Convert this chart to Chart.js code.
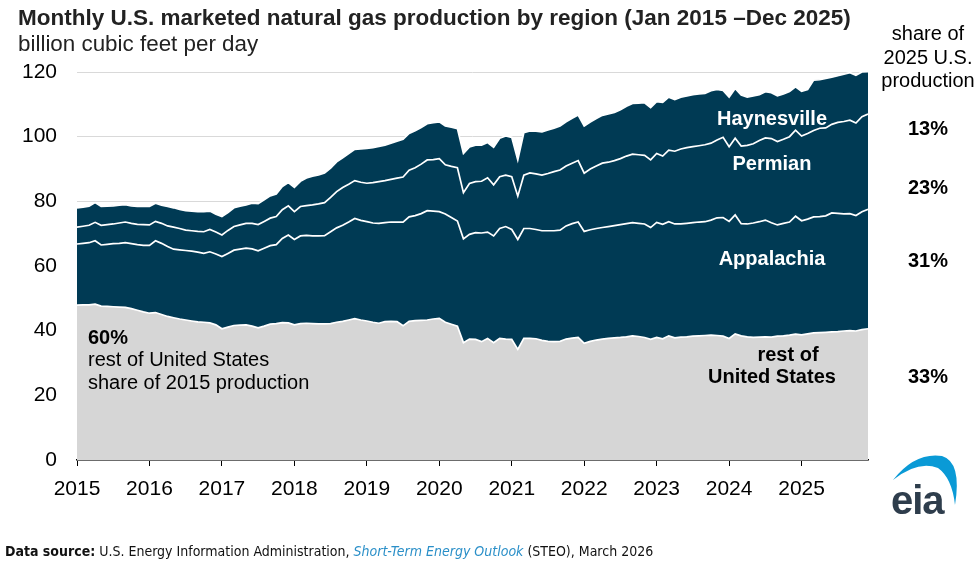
<!DOCTYPE html>
<html>
<head>
<meta charset="utf-8">
<script src="https://cdn.jsdelivr.net/npm/chart.js@4.4.1/dist/chart.umd.min.js"></script>
<style>
  html, body { margin:0; padding:0; background:#fff; }
  #wrap { position:relative; width:980px; height:571px; overflow:hidden; font-family:"Liberation Sans", Arial, sans-serif; color:#000; }
  canvas { position:absolute; left:0; top:0; }
  .t { position:absolute; white-space:nowrap; line-height:1; }
  .c { transform:translate(-50%,-50%); text-align:center; }
  .l { transform:translate(0,-50%); }
  .b { font-weight:bold; }
  .w { color:#fff; }
</style>
</head>
<body>
<div id="wrap">
  <canvas id="chart" width="980" height="571"></canvas>
  <div class="t b" style="left:18px;top:7px;font-size:22.5px;color:#222;">Monthly U.S. marketed natural gas production by region (Jan 2015 –Dec 2025)</div>
  <div class="t" style="left:18px;top:33px;font-size:22.4px;color:#222;">billion cubic feet per day</div>

  <div class="t c" style="left:928px;top:33px;font-size:20px;">share of</div>
  <div class="t c" style="left:928px;top:57px;font-size:20px;">2025 U.S.</div>
  <div class="t c" style="left:928px;top:80px;font-size:20px;">production</div>

  <div class="t c b" style="left:928px;top:128px;font-size:20px;">13%</div>
  <div class="t c b" style="left:928px;top:187px;font-size:20px;">23%</div>
  <div class="t c b" style="left:928px;top:260px;font-size:20px;">31%</div>
  <div class="t c b" style="left:928px;top:376px;font-size:20px;">33%</div>

  <div class="t c b w" style="left:772px;top:118px;font-size:20px;">Haynesville</div>
  <div class="t c b w" style="left:772px;top:163px;font-size:20px;">Permian</div>
  <div class="t c b w" style="left:772px;top:258px;font-size:20px;">Appalachia</div>
  <div class="t c b" style="left:788px;top:354px;font-size:20px;">rest of</div>
  <div class="t c b" style="left:772px;top:376px;font-size:20px;">United States</div>

  <div class="t l b" style="left:88px;top:337px;font-size:20px;">60%</div>
  <div class="t l" style="left:88px;top:359px;font-size:20px;">rest of United States</div>
  <div class="t l" style="left:88px;top:382px;font-size:20px;">share of 2015 production</div>

  <div class="t l" style="left:5px;top:551px;font-size:14px;font-family:'Liberation Sans Narrow','DejaVu Sans Condensed','Liberation Sans',sans-serif;font-stretch:condensed;color:#111;"><span class="b">Data source:</span> U.S. Energy Information Administration, <i style="color:#2a8fc8;">Short-Term Energy Outlook</i> (STEO), March 2026</div>

  <svg style="position:absolute;left:880px;top:448px;" width="90" height="80" viewBox="880 448 90 80">
    <path d="M893 480 Q915 452 942 456 Q962 462 955 505 Q952 478 938 468 Q918 460 893 480 Z" fill="#0a9ad6"/>
  </svg>
  <div class="t b" style="left:891px;top:480px;font-size:40px;color:#2e3d4c;letter-spacing:-1px;">eia</div>
</div>
<script>
// Month categories Jan 2015 – Dec 2025
const months = [];
for (let y = 2015; y <= 2025; y++) for (let m = 1; m <= 12; m++) months.push(y + '-' + String(m).padStart(2, '0'));
const yearTicks = [2015, 2016, 2017, 2018, 2019, 2020, 2021, 2022, 2023, 2024, 2025];
const yTicks = [0, 20, 40, 60, 80, 100, 120];

// billion cubic feet per day, monthly
const restOfUS = [
  47.9, 48.0, 48.0, 48.2, 47.6, 47.5, 47.4, 47.3, 47.2, 46.8, 46.3, 45.8,
  45.4, 45.6, 45.0, 44.4, 44.0, 43.6, 43.3, 43.0, 42.7, 42.6, 42.4, 41.8,
  40.6, 41.1, 41.6, 41.7, 41.8, 41.4, 40.9, 41.4, 42.0, 42.2, 42.5, 42.4,
  41.8, 42.2, 42.3, 42.2, 42.1, 42.1, 42.2, 42.6, 42.9, 43.3, 43.7, 43.3,
  43.0, 42.6, 42.3, 42.8, 42.9, 42.8, 41.5, 42.9, 43.1, 43.2, 43.3, 43.6,
  43.8, 42.6, 42.0, 41.4, 36.3, 37.4, 37.3, 36.6, 37.6, 36.3, 37.6, 37.4,
  37.3, 34.2, 37.6, 37.6, 37.5, 37.0, 36.7, 36.6, 36.7, 37.4, 37.7, 37.9,
  36.1, 36.7, 37.1, 37.4, 37.6, 37.8, 37.9, 38.1, 38.4, 38.2, 37.9, 37.3,
  37.9, 37.5, 38.4, 37.8, 38.0, 38.1, 38.3, 38.4, 38.5, 38.6, 38.5, 38.3,
  37.6, 39.0, 38.4, 38.1, 37.9, 38.0, 38.1, 38.0, 38.3, 38.4, 38.6, 38.9,
  38.7, 39.0, 39.3, 39.4, 39.5, 39.6, 39.7, 39.9, 40.0, 39.9, 40.3, 40.6
];
const appalachia = [
  18.9, 19.0, 19.2, 19.6, 18.9, 19.2, 19.5, 19.7, 20.0, 20.1, 20.3, 20.6,
  21.0, 22.2, 22.0, 21.6, 21.2, 21.4, 21.5, 21.6, 21.6, 21.3, 22.0, 21.9,
  22.3, 22.8, 23.3, 23.5, 23.7, 23.9, 23.8, 24.1, 24.3, 24.4, 26.0, 27.2,
  26.4, 27.1, 27.2, 27.1, 27.2, 27.3, 28.4, 29.2, 29.7, 30.3, 31.0, 30.8,
  30.7, 30.7, 30.9, 30.6, 30.7, 30.8, 32.1, 32.3, 32.5, 33.0, 33.8, 33.4,
  33.0, 33.5, 33.0, 32.5, 32.1, 32.4, 33.0, 33.6, 32.9, 33.0, 34.0, 34.8,
  34.0, 34.0, 34.0, 34.0, 33.8, 33.9, 34.2, 34.3, 34.4, 35.0, 35.4, 35.7,
  34.6, 34.5, 34.5, 34.5, 34.6, 34.7, 34.9, 35.0, 35.0, 35.0, 35.1, 34.6,
  35.6, 35.4, 35.3, 35.2, 35.0, 35.1, 35.1, 35.2, 35.2, 35.6, 36.4, 36.7,
  36.2, 36.8, 34.7, 34.9, 35.4, 35.7, 36.1, 35.4, 34.4, 34.8, 35.0, 36.5,
  35.3, 35.5, 35.9, 35.9, 36.0, 36.8, 36.6, 36.2, 36.2, 35.7, 36.5, 36.9
];
const permian = [
  5.2, 5.3, 5.4, 5.7, 6.1, 6.1, 6.1, 6.3, 6.4, 6.3, 6.3, 6.4,
  6.3, 6.0, 6.2, 6.4, 6.8, 6.6, 6.3, 6.3, 6.4, 6.7, 6.9, 6.8,
  6.7, 7.1, 7.3, 7.5, 7.7, 7.9, 8.1, 8.3, 8.5, 8.7, 8.9, 9.0,
  8.6, 9.1, 9.2, 9.6, 9.9, 10.2, 10.6, 11.2, 11.7, 11.7, 11.7, 11.8,
  11.9, 12.5, 12.9, 13.0, 13.2, 13.6, 13.9, 14.4, 14.8, 15.3, 15.7, 15.9,
  16.4, 15.2, 15.8, 16.5, 14.3, 15.7, 15.8, 16.0, 16.8, 15.8, 16.0, 15.9,
  16.3, 13.4, 16.5, 17.2, 17.2, 17.2, 17.7, 18.3, 18.6, 18.5, 18.7, 19.0,
  18.0, 18.8, 19.3, 19.9, 19.9, 20.1, 20.4, 20.9, 21.2, 21.2, 21.2, 20.9,
  21.3, 21.1, 22.1, 22.5, 23.2, 23.4, 23.5, 23.6, 23.8, 23.8, 24.1, 24.8,
  23.1, 23.7, 24.0, 24.3, 24.5, 25.1, 25.4, 26.0, 25.8, 26.0, 26.4, 26.6,
  26.2, 26.5, 26.7, 27.3, 27.2, 27.4, 28.1, 28.6, 28.9, 28.6, 29.4, 29.5
];
const haynesville = [
  6.0, 5.9, 5.9, 6.1, 5.8, 5.7, 5.6, 5.5, 5.4, 5.4, 5.5, 5.6,
  5.7, 5.6, 5.6, 6.0, 6.0, 5.9, 6.0, 6.1, 6.1, 6.2, 5.7, 5.5,
  5.7, 5.5, 5.8, 5.8, 5.7, 6.2, 6.5, 6.7, 6.9, 7.0, 7.2, 7.2,
  7.5, 7.8, 8.5, 8.9, 9.0, 9.2, 9.1, 9.2, 9.2, 9.5, 9.7, 10.3,
  10.8, 10.8, 10.9, 11.0, 11.2, 11.4, 11.7, 11.4, 11.4, 11.3, 11.2, 11.4,
  11.4, 12.0, 12.1, 12.1, 12.1, 11.3, 11.3, 11.2, 10.9, 11.6, 11.9, 12.1,
  12.2, 11.2, 13.1, 13.0, 13.2, 13.4, 13.5, 13.4, 13.6, 13.7, 13.9, 14.1,
  14.6, 14.5, 14.7, 14.8, 14.9, 14.9, 15.1, 15.4, 15.7, 16.0, 16.3, 16.2,
  16.0, 16.6, 16.4, 16.0, 16.0, 16.0, 16.1, 16.0, 15.9, 16.2, 15.6, 14.5,
  15.3, 15.4, 15.8, 14.9, 14.8, 14.2, 14.3, 14.2, 14.1, 14.0, 14.0, 13.4,
  13.8, 13.6, 15.6, 15.0, 15.3, 14.6, 14.5, 14.6, 14.7, 14.8, 13.8, 13.1
];

const NAVY = '#003a54';
const GRAY = '#d6d6d6';
const FONT = '"Liberation Sans", Arial, sans-serif';

function series(label, values, color, fill) {
  return {
    label,
    data: values.map((v, i) => ({ x: i, y: v })),
    backgroundColor: color,
    borderColor: '#ffffff',
    borderWidth: 1.7,
    fill,
    pointRadius: 0,
    tension: 0
  };
}

new Chart(document.getElementById('chart'), {
  type: 'line',
  data: {
    labels: months,
    datasets: [
      series('rest of United States', restOfUS, GRAY, 'origin'),
      series('Appalachia', appalachia, NAVY, '-1'),
      series('Permian', permian, NAVY, '-1'),
      series('Haynesville', haynesville, NAVY, '-1')
    ]
  },
  options: {
    responsive: false,
    animation: false,
    devicePixelRatio: 1,
    layout: { padding: { left: 0, right: 112, top: 72, bottom: 71 } },
    plugins: { legend: { display: false }, tooltip: { enabled: false }, title: { display: false } },
    scales: {
      x: {
        type: 'linear',
        min: 0,
        max: months.length - 1,
        afterBuildTicks: s => { s.ticks = yearTicks.map(y => ({ value: (y - 2015) * 12 })); },
        afterFit: s => { s.height = 40; },
        grid: { drawOnChartArea: false, drawTicks: true, tickLength: 6, color: '#000', lineWidth: 1 },
        border: { display: true, color: '#000', width: 1.5 },
        ticks: {
          autoSkip: false, maxRotation: 0, padding: 11, color: '#000',
          font: { family: FONT, size: 21 },
          callback: v => String(yearTicks[0] + v / 12)
        }
      },
      y: {
        stacked: true,
        min: 0,
        max: 120,
        afterBuildTicks: s => { s.ticks = yTicks.map(v => ({ value: v })); },
        afterFit: s => { s.width = 77; },
        grid: { color: '#d9d9d9', lineWidth: 1, drawTicks: false },
        border: { display: false },
        ticks: { padding: 20, color: '#000', font: { family: FONT, size: 21 } }
      }
    }
  }
});
</script>
</body>
</html>
